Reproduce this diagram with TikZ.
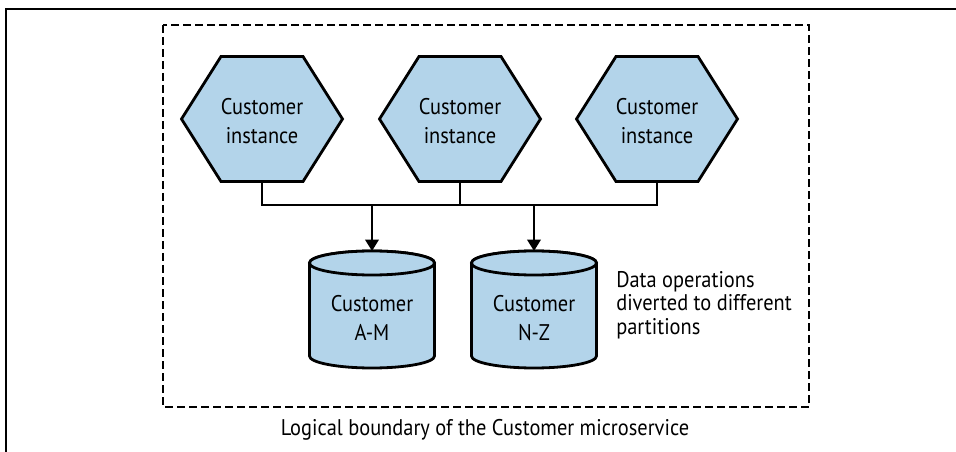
\documentclass[tikz,border=0pt]{standalone}
\usepackage{fontspec}
\setmainfont{PT Sans}[FakeStretch=0.9]
\usetikzlibrary{arrows.meta,calc}
\definecolor{shapefill}{HTML}{B3D4EA}
\begin{document}
\begin{tikzpicture}[x=0.75pt,y=-0.75pt,
  hexbox/.style={draw=black,line width=2.1pt,fill=shapefill,line join=miter},
  cyl/.style={draw=black,line width=2.1pt,fill=shapefill},
  lbl/.style={align=center,font=\fontsize{17pt}{21.75pt}\selectfont,inner sep=0pt},
  conn/.style={line width=1.8pt},
  arr/.style={conn,-{Triangle[length=8.5pt,width=10pt]}},
  boundary/.style={line width=1.7pt,dash pattern=on 6pt off 3pt}
]
\useasboundingbox (0,0) rectangle (956,452);
\draw[line width=1.2pt] (956,9) -- (6,9) -- (6,452);
\draw[boundary] (163,25) rectangle (809,407);
\foreach \n/\x in {1/262,2/460,3/657} {
  \coordinate (h\n) at (\x,119);
  \draw[hexbox] ($(h\n)+(-80.5,0)$) -- ++(39.5,-62.5) -- ++(82,0) -- ++(39.5,62.5) -- ++(-39.5,62.5) -- ++(-82,0) -- cycle;
  \node[lbl] (t\n) at ($(h\n)+(0,2)$) {Customer\\instance};
  \coordinate (b\n) at ($(h\n)+(0,62.5)$);
}
\foreach \n/\x/\t in {1/372/A-M,2/534/N-Z} {
  \coordinate (c\n) at (\x,263);
  \path[cyl] ($(c\n)+(-62.5,0)$) -- ++(0,93) arc[start angle=180,end angle=0,x radius=62.5,y radius=12] -- ++(0,-93) arc[start angle=0,end angle=-180,x radius=62.5,y radius=12] -- cycle;
  \draw[cyl] (c\n) ellipse[x radius=62.5,y radius=12];
  \node[lbl] (d\n) at ($(c\n)+(0,55)$) {Customer\\\t};
  \coordinate (ct\n) at ($(c\n)+(0,-12)$);
}
\coordinate (bus) at (0,205);
\draw[conn] (b1) -- (b1 |- bus) -- (b3 |- bus) -- (b3);
\draw[conn] (b2) -- (b2 |- bus);
\draw[arr] (ct1 |- bus) -- (ct1);
\draw[arr] (ct2 |- bus) -- (ct2);
\node[lbl,align=left,anchor=west,font=\fontsize{17pt}{17.5pt}\selectfont] (note) at (616,305) {Data operations\\diverted to different\\partitions};
\node[lbl,font=\fontsize{17pt}{18pt}\selectfont] (cap) at (485,430) {Logical boundary of the Customer microservice};
\end{tikzpicture}
\end{document}
